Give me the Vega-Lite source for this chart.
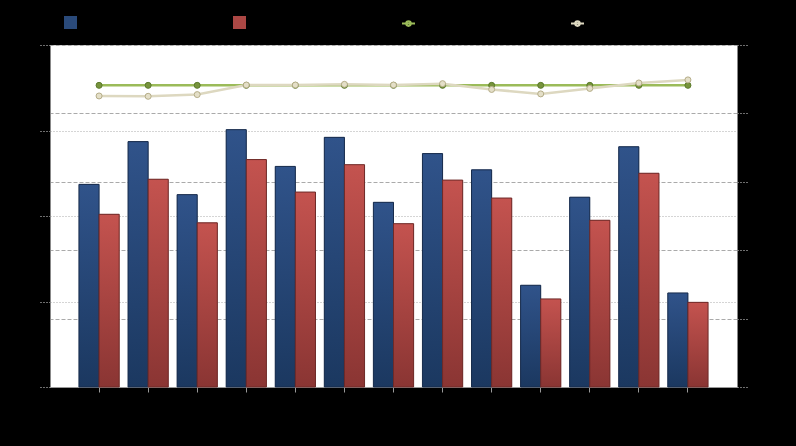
{
  "$schema": "https://vega.github.io/schema/vega-lite/v6.json",
  "width": 687,
  "height": 342,
  "autosize": {"type": "none"},
  "padding": {"left": 50, "top": 45, "right": 59, "bottom": 59},
  "background": "black",
  "config": {
    "view": {"fill": "white", "stroke": null},
    "font": "Liberation Sans",
    "axis": {"labelColor": "black", "titleColor": "black", "labelFontSize": 11},
    "legend": {"labelColor": "black", "labelFontSize": 11}
  },
  "datasets": {
    "bars": [
      {"cat": "1", "series": "Series 1", "value": 237},
      {"cat": "1", "series": "Series 2", "value": 202},
      {"cat": "2", "series": "Series 1", "value": 287},
      {"cat": "2", "series": "Series 2", "value": 243},
      {"cat": "3", "series": "Series 1", "value": 225},
      {"cat": "3", "series": "Series 2", "value": 192},
      {"cat": "4", "series": "Series 1", "value": 301},
      {"cat": "4", "series": "Series 2", "value": 266},
      {"cat": "5", "series": "Series 1", "value": 258},
      {"cat": "5", "series": "Series 2", "value": 228},
      {"cat": "6", "series": "Series 1", "value": 292},
      {"cat": "6", "series": "Series 2", "value": 260},
      {"cat": "7", "series": "Series 1", "value": 216},
      {"cat": "7", "series": "Series 2", "value": 191},
      {"cat": "8", "series": "Series 1", "value": 273},
      {"cat": "8", "series": "Series 2", "value": 242},
      {"cat": "9", "series": "Series 1", "value": 254},
      {"cat": "9", "series": "Series 2", "value": 221},
      {"cat": "10", "series": "Series 1", "value": 119},
      {"cat": "10", "series": "Series 2", "value": 103},
      {"cat": "11", "series": "Series 1", "value": 222},
      {"cat": "11", "series": "Series 2", "value": 195},
      {"cat": "12", "series": "Series 1", "value": 281},
      {"cat": "12", "series": "Series 2", "value": 250},
      {"cat": "13", "series": "Series 1", "value": 110},
      {"cat": "13", "series": "Series 2", "value": 99}
    ],
    "lines": [
      {"cat": "1", "series": "Series 3", "value": 88.2},
      {"cat": "2", "series": "Series 3", "value": 88.2},
      {"cat": "3", "series": "Series 3", "value": 88.2},
      {"cat": "4", "series": "Series 3", "value": 88.2},
      {"cat": "5", "series": "Series 3", "value": 88.2},
      {"cat": "6", "series": "Series 3", "value": 88.2},
      {"cat": "7", "series": "Series 3", "value": 88.2},
      {"cat": "8", "series": "Series 3", "value": 88.2},
      {"cat": "9", "series": "Series 3", "value": 88.2},
      {"cat": "10", "series": "Series 3", "value": 88.2},
      {"cat": "11", "series": "Series 3", "value": 88.2},
      {"cat": "12", "series": "Series 3", "value": 88.2},
      {"cat": "13", "series": "Series 3", "value": 88.2},
      {"cat": "1", "series": "Series 4", "value": 85.1},
      {"cat": "2", "series": "Series 4", "value": 85.0},
      {"cat": "3", "series": "Series 4", "value": 85.5},
      {"cat": "4", "series": "Series 4", "value": 88.3},
      {"cat": "5", "series": "Series 4", "value": 88.3},
      {"cat": "6", "series": "Series 4", "value": 88.5},
      {"cat": "7", "series": "Series 4", "value": 88.3},
      {"cat": "8", "series": "Series 4", "value": 88.7},
      {"cat": "9", "series": "Series 4", "value": 87.0},
      {"cat": "10", "series": "Series 4", "value": 85.7},
      {"cat": "11", "series": "Series 4", "value": 87.3},
      {"cat": "12", "series": "Series 4", "value": 88.9},
      {"cat": "13", "series": "Series 4", "value": 89.8}
    ]
  },
  "layer": [
    {
      "data": {"name": "bars"},
      "encoding": {
        "x": {
          "field": "cat", "type": "ordinal", "sort": null,
          "scale": {"paddingInner": 0.18, "paddingOuter": 0.59},
          "axis": {"title": null, "labelAngle": 0, "tickColor": "#999999", "tickSize": 5, "domainColor": "#999999", "labelPadding": 4}
        },
        "xOffset": {"field": "series", "type": "nominal", "sort": null},
        "y": {
          "field": "value", "type": "quantitative",
          "scale": {"domain": [0, 400], "nice": false},
          "axis": {"orient": "left", "title": null, "values": [0, 100, 200, 300, 400], "grid": true, "gridDash": [1, 2], "gridColor": "#aaaaaa", "tickColor": "#dddddd", "tickDash": [1, 2], "tickSize": 10, "domainColor": "#888888", "labelPadding": 4}
        }
      },
      "layer": [
        {
          "mark": {"type": "bar"},
          "encoding": {
            "fill": {
              "field": "series", "type": "nominal", "sort": null,
              "scale": {"range": ["#2a4a7a", "#ab4744"]},
              "legend": {"orient": "none", "legendX": 14, "legendY": -29, "direction": "horizontal", "title": null, "symbolType": "square", "symbolSize": 169, "symbolStrokeWidth": 0, "columnPadding": 111, "padding": 0}
            }
          }
        },
        {
          "transform": [{"filter": "datum.series === 'Series 1'"}],
          "mark": {
            "type": "bar", "stroke": "#182c4c", "strokeWidth": 1,
            "fill": {"gradient": "linear", "x1": 0, "y1": 0, "x2": 0, "y2": 1, "stops": [{"offset": 0, "color": "#30538a"}, {"offset": 1, "color": "#1b3860"}]}
          }
        },
        {
          "transform": [{"filter": "datum.series === 'Series 2'"}],
          "mark": {
            "type": "bar", "stroke": "#6e2a28", "strokeWidth": 1,
            "fill": {"gradient": "linear", "x1": 0, "y1": 0, "x2": 0, "y2": 1, "stops": [{"offset": 0, "color": "#c4534f"}, {"offset": 1, "color": "#8a3533"}]}
          }
        }
      ]
    },
    {
      "data": {"name": "lines"},
      "encoding": {
        "x": {"field": "cat", "type": "ordinal", "sort": null},
        "y": {
          "field": "value", "type": "quantitative",
          "scale": {"domain": [0, 100], "nice": false},
          "axis": {"orient": "right", "title": null, "values": [0, 20, 40, 60, 80, 100], "grid": true, "gridDash": [4, 2], "gridColor": "#aaaaaa", "tickColor": "#dddddd", "tickDash": [1, 2], "tickSize": 10, "domainColor": "#888888", "labelPadding": 4}
        }
      },
      "layer": [
        {
          "mark": {"type": "line", "strokeWidth": 2.5},
          "encoding": {
            "stroke": {
              "field": "series", "type": "nominal", "sort": null,
              "scale": {"range": ["#9bbb59", "#ddd8c0"]},
              "legend": {"orient": "none", "legendX": 351, "legendY": -29, "direction": "horizontal", "title": null, "symbolType": "M-1,0H1M0.35,0A0.35,0.35 0 1,1 -0.35,0A0.35,0.35 0 1,1 0.35,0", "symbolSize": 169, "symbolStrokeWidth": 2, "columnPadding": 106, "padding": 0}
            }
          }
        },
        {
          "transform": [{"filter": "datum.series === 'Series 3'"}],
          "mark": {"type": "point", "shape": "circle", "filled": true, "size": 36, "fill": "#77933c", "stroke": "#5a7a2a", "strokeWidth": 1, "opacity": 1}
        },
        {
          "transform": [{"filter": "datum.series === 'Series 4'"}],
          "mark": {"type": "point", "shape": "circle", "filled": true, "size": 36, "fill": "#e4dfc8", "stroke": "#b5ad88", "strokeWidth": 1, "opacity": 1}
        }
      ]
    }
  ],
  "resolve": {"scale": {"y": "independent"}}
}
